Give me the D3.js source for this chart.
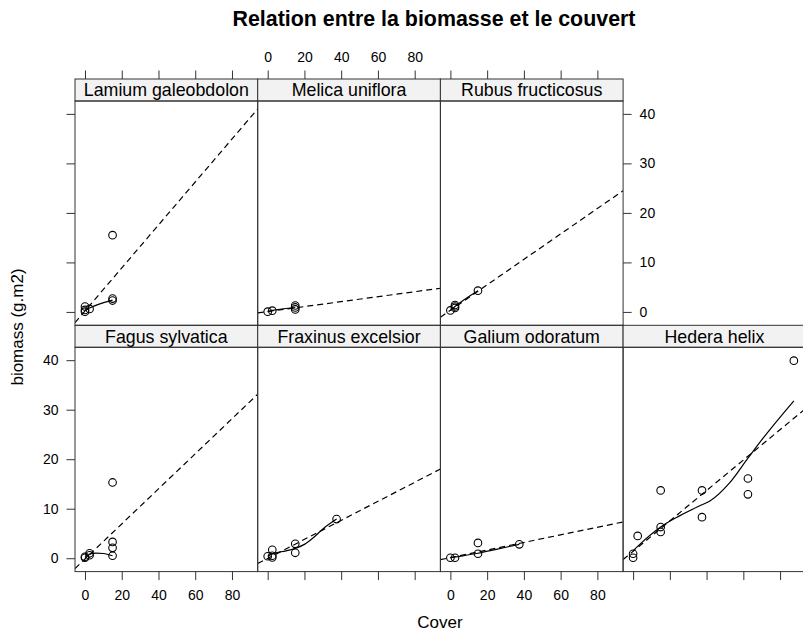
<!DOCTYPE html>
<html>
<head>
<meta charset="utf-8">
<script src="https://cdn.jsdelivr.net/npm/d3@7"></script>
<style>
  html, body { margin: 0; padding: 0; background: #fff; }
  svg { display: block; font-family: "Liberation Sans", Arial, Helvetica, sans-serif; }
</style>
</head>
<body>
<svg id="chart" width="803" height="635"></svg>
<script>
// ---------------- data ----------------
const species = ["Fagus sylvatica", "Fraxinus excelsior", "Galium odoratum", "Hedera helix",
                 "Lamium galeobdolon", "Melica uniflora", "Rubus fructicosus"];

const coverPoints = [
  [0, 0, 2.5, 2.5, 15, 15, 15, 15],
  [0, 2.5, 2.5, 2.5, 15, 15, 37.5],
  [0, 2.5, 15, 15, 37.5],
  [0, 0, 2.5, 15, 15, 15, 37.5, 37.5, 62.5, 62.5, 87.5],
  [0, 0, 0, 2.5, 15, 15, 15],
  [0, 2.5, 15, 15, 15],
  [0, 2.5, 2.5, 2.5, 15]
];
const biomassPoints = [
  [0.1, 0.3, 0.6, 1.0, 15.3, 3.3, 2.1, 0.5],
  [0.4, 0.15, 0.5, 1.7, 2.9, 1.1, 7.9],
  [0.1, 0.1, 3.1, 0.9, 2.8],
  [0.9, 0.1, 4.5, 13.7, 6.3, 5.3, 13.7, 8.3, 16.1, 12.9, 39.9],
  [0.05, 0.4, 1.1, 0.6, 15.5, 2.3, 2.7],
  [0.05, 0.25, 0.5, 0.9, 1.3],
  [0.3, 0.8, 1.1, 1.4, 4.3]
];

// linear fit (dashed line): intercept and slope
const fitIntercept = [-0.15, -0.03, 0.12, 1.40, 0.20, 0.08, 0.33];
const fitSlope     = [0.354, 0.192, 0.0767, 0.307, 0.434, 0.05, 0.257];

// smoothed curve (solid line)
const smoothCover = [
  [0, 2.5, 6, 10, 15],
  [0, 2.5, 10, 15, 20, 25, 30, 37.5],
  [0, 2.5, 15, 25, 37.5],
  [0, 2.5, 15, 25, 37.5, 42, 52.5, 62.5, 70, 87.5],
  [0, 2.5, 15],
  [0, 2.5, 15],
  [0, 2.5, 15]
];
const smoothBiomass = [
  [0.15, 0.85, 1.05, 0.95, 0.5],
  [0.4, 0.9, 1.5, 2.0, 2.8, 4.2, 5.9, 7.9],
  [0.1, 0.25, 1.0, 1.8, 2.8],
  [1.5, 2.4, 6.3, 8.5, 10.8, 11.6, 15.2, 20.2, 23.9, 31.8],
  [0.3, 0.8, 2.4],
  [0.1, 0.3, 0.9],
  [0.3, 1.1, 4.3]
];

const xTicks = [0, 20, 40, 60, 80];
const yTicks = [0, 10, 20, 30, 40];
const xDomain = [-5.44, 94];
const yDomain = [-2.7, 42.6];

const titleText = "Relation entre la biomasse et le couvert";
const xLabel = "Cover";
const yLabel = "biomass (g.m2)";

// ---------------- layout ----------------
const svg = d3.select("#chart");
const colX = [75, 257.7, 440.4, 623.1];
const panelW = 182.7;
const rowTop = [79, 325.3];   // strip top of each row (0 = top row)
const stripH = 22;
const plotH = 224.3;
const tickLen = 8.5;
const lineCol = "#333";

svg.append("text")
  .attr("x", 434).attr("y", 26)
  .attr("text-anchor", "middle")
  .attr("font-size", 21.4).attr("font-weight", "bold")
  .text(titleText);

svg.append("text")
  .attr("x", 440).attr("y", 628)
  .attr("text-anchor", "middle")
  .attr("font-size", 17)
  .text(xLabel);

svg.append("text")
  .attr("transform", "translate(23,327) rotate(-90)")
  .attr("text-anchor", "middle")
  .attr("font-size", 17)
  .text(yLabel);

species.forEach((name, i) => {
  const row = i < 4 ? 1 : 0;
  const col = i < 4 ? i : i - 4;
  const x0 = colX[col];
  const sTop = rowTop[row];
  const pTop = sTop + stripH;
  const pBot = pTop + plotH;

  const x = d3.scaleLinear().domain(xDomain).range([x0, x0 + panelW]);
  const y = d3.scaleLinear().domain(yDomain).range([pBot, pTop]);

  const g = svg.append("g");
  const clipId = "clip" + i;
  g.append("clipPath").attr("id", clipId)
    .append("rect").attr("x", x0).attr("y", pTop).attr("width", panelW).attr("height", plotH);

  // strip
  g.append("rect")
    .attr("x", x0).attr("y", sTop).attr("width", panelW).attr("height", stripH)
    .attr("fill", "#f2f2f2").attr("stroke", lineCol).attr("stroke-width", 1);
  g.append("text")
    .attr("x", x0 + panelW / 2).attr("y", sTop + stripH / 2 + 6.3)
    .attr("text-anchor", "middle").attr("font-size", 17.8)
    .text(name);

  const inner = g.append("g").attr("clip-path", `url(#${clipId})`);

  // dashed fit line
  inner.append("line")
    .attr("x1", x(xDomain[0])).attr("y1", y(fitIntercept[i] + fitSlope[i] * xDomain[0]))
    .attr("x2", x(xDomain[1])).attr("y2", y(fitIntercept[i] + fitSlope[i] * xDomain[1]))
    .attr("stroke", "#000").attr("stroke-width", 1.2).attr("stroke-dasharray", "6,4");

  // smooth curve
  const sm = smoothCover[i].map((c, k) => [c, smoothBiomass[i][k]]);
  inner.append("path")
    .datum(sm)
    .attr("d", d3.line().x(d => x(d[0])).y(d => y(d[1])).curve(d3.curveMonotoneX))
    .attr("fill", "none").attr("stroke", "#000").attr("stroke-width", 1.2);

  // points
  const pts = coverPoints[i].map((c, k) => [c, biomassPoints[i][k]]);
  inner.selectAll("circle").data(pts).enter().append("circle")
    .attr("cx", d => x(d[0])).attr("cy", d => y(d[1])).attr("r", 3.8)
    .attr("fill", "none").attr("stroke", "#000").attr("stroke-width", 1.1);

  // panel border
  g.append("rect")
    .attr("x", x0).attr("y", pTop).attr("width", panelW).attr("height", plotH)
    .attr("fill", "none").attr("stroke", lineCol).attr("stroke-width", 1);

  const styleAxis = (sel) => {
    sel.select(".domain").remove();
    sel.selectAll(".tick line").attr("stroke", lineCol);
    sel.selectAll("text").attr("font-size", 14).attr("font-family", "Liberation Sans, Arial, sans-serif").attr("fill", "#000");
  };

  // top axis (top row)
  if (row === 0) {
    const showLab = col === 1;
    g.append("g").attr("transform", `translate(0,${sTop})`)
      .call(d3.axisTop(x).tickValues(xTicks).tickSize(tickLen).tickPadding(9)
        .tickFormat(showLab ? d3.format("d") : () => ""))
      .call(styleAxis);
  }
  // bottom axis (bottom row)
  if (row === 1) {
    const showLab = col === 0 || col === 2;
    g.append("g").attr("transform", `translate(0,${pBot})`)
      .call(d3.axisBottom(x).tickValues(xTicks).tickSize(tickLen).tickPadding(10)
        .tickFormat(showLab ? d3.format("d") : () => ""))
      .call(styleAxis);
  }
  // left axis
  if (col === 0) {
    const showLab = row === 1;
    g.append("g").attr("transform", `translate(${x0},0)`)
      .call(d3.axisLeft(y).tickValues(yTicks).tickSize(tickLen).tickPadding(8)
        .tickFormat(showLab ? d3.format("d") : () => ""))
      .call(styleAxis);
  }
  // right axis
  if ((row === 0 && col === 2) || (row === 1 && col === 3)) {
    const showLab = row === 0;
    g.append("g").attr("transform", `translate(${x0 + panelW},0)`)
      .call(d3.axisRight(y).tickValues(yTicks).tickSize(tickLen).tickPadding(8)
        .tickFormat(showLab ? d3.format("d") : () => ""))
      .call(styleAxis);
  }
});
</script>
</body>
</html>
